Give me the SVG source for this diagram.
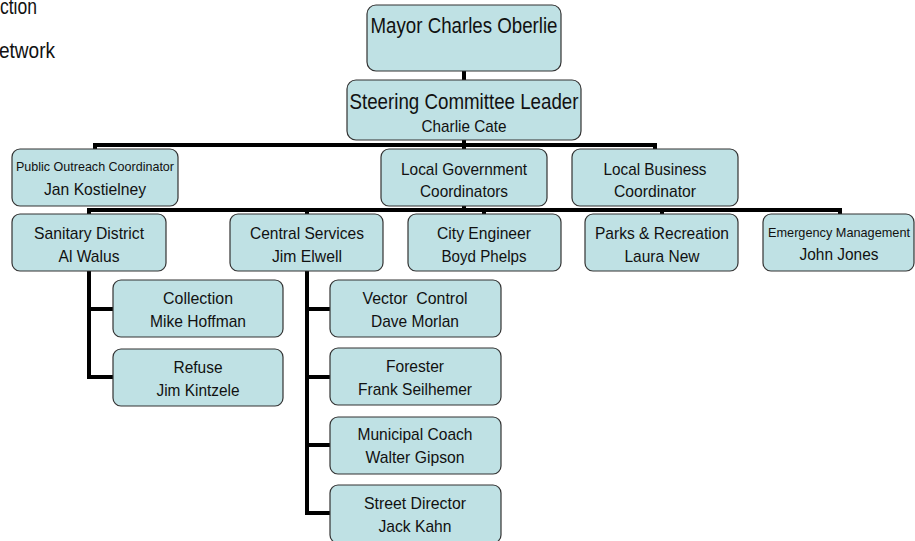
<svg xmlns="http://www.w3.org/2000/svg" width="915" height="541" viewBox="0 0 915 541">
<style>
.box{fill:#BFE1E4;stroke:#333;stroke-width:1.2}
text{font-family:"Liberation Sans",Arial,sans-serif;fill:#111;text-anchor:middle}
.big{font-size:22px}
.md{font-size:17px}
.sm{font-size:13px}
.hd{font-size:22px;text-anchor:start}
.ln{fill:none;stroke:#000;stroke-width:4;stroke-linejoin:miter;stroke-linecap:square}
</style>
<rect width="915" height="541" fill="#fff"/>
<text class="hd" x="0" y="14" textLength="37" lengthAdjust="spacingAndGlyphs">ction</text>
<text class="hd" x="-1" y="58" textLength="56" lengthAdjust="spacingAndGlyphs">etwork</text>
<g id="connectors">
<path class="ln" d="M464 71V80"/>
<path class="ln" d="M464 140V145M95 149V145H655V149M464 145V149"/>
<path class="ln" d="M464 206V210M89 214V210H840V214M307 210V214M484 210V214M662 210V214"/>
<path class="ln" d="M89 271V377H113M89 309H113"/>
<path class="ln" d="M307 271V513H330M307 309H330M307 377H330M307 445H330"/>
</g>
<g id="mayor"><rect class="box" x="367" y="5" width="194" height="66" rx="9"/><text class="big" x="464" y="33" textLength="187" lengthAdjust="spacingAndGlyphs">Mayor Charles Oberlie</text></g>
<g id="steering"><rect class="box" x="347" y="80" width="234" height="60" rx="9"/><text class="big" x="464" y="109" textLength="229" lengthAdjust="spacingAndGlyphs">Steering Committee Leader</text><text class="md" x="464" y="132" textLength="85" lengthAdjust="spacingAndGlyphs">Charlie Cate</text></g>
<g id="outreach"><rect class="box" x="12" y="149" width="166" height="57" rx="8"/><text class="sm" x="95" y="171" textLength="158" lengthAdjust="spacingAndGlyphs">Public Outreach Coordinator</text><text class="md" x="95" y="195" textLength="102" lengthAdjust="spacingAndGlyphs">Jan Kostielney</text></g>
<g id="localgov"><rect class="box" x="381" y="149" width="166" height="57" rx="8"/><text class="md" x="464" y="175" textLength="126" lengthAdjust="spacingAndGlyphs">Local Government</text><text class="md" x="464" y="197" textLength="88" lengthAdjust="spacingAndGlyphs">Coordinators</text></g>
<g id="localbiz"><rect class="box" x="572" y="149" width="166" height="57" rx="8"/><text class="md" x="655" y="175" textLength="103" lengthAdjust="spacingAndGlyphs">Local Business</text><text class="md" x="655" y="197" textLength="82" lengthAdjust="spacingAndGlyphs">Coordinator</text></g>
<g id="sanitary"><rect class="box" x="12" y="214" width="154" height="57" rx="8"/><text class="md" x="89" y="239" textLength="110" lengthAdjust="spacingAndGlyphs">Sanitary District</text><text class="md" x="89" y="262" textLength="61" lengthAdjust="spacingAndGlyphs">Al Walus</text></g>
<g id="central"><rect class="box" x="230" y="214" width="153" height="57" rx="8"/><text class="md" x="307" y="239" textLength="114" lengthAdjust="spacingAndGlyphs">Central Services</text><text class="md" x="307" y="262" textLength="70" lengthAdjust="spacingAndGlyphs">Jim Elwell</text></g>
<g id="cityeng"><rect class="box" x="408" y="214" width="153" height="57" rx="8"/><text class="md" x="484" y="239" textLength="94" lengthAdjust="spacingAndGlyphs">City Engineer</text><text class="md" x="484" y="262" textLength="85" lengthAdjust="spacingAndGlyphs">Boyd Phelps</text></g>
<g id="parks"><rect class="box" x="585" y="214" width="153" height="57" rx="8"/><text class="md" x="662" y="239" textLength="134" lengthAdjust="spacingAndGlyphs">Parks &amp; Recreation</text><text class="md" x="662" y="262" textLength="75" lengthAdjust="spacingAndGlyphs">Laura New</text></g>
<g id="emergency"><rect class="box" x="763" y="214" width="151" height="57" rx="8"/><text class="sm" x="839" y="237" textLength="142" lengthAdjust="spacingAndGlyphs">Emergency Management</text><text class="md" x="839" y="260" textLength="79" lengthAdjust="spacingAndGlyphs">John Jones</text></g>
<g id="collection"><rect class="box" x="113" y="280" width="170" height="57" rx="8"/><text class="md" x="198" y="304" textLength="70" lengthAdjust="spacingAndGlyphs">Collection</text><text class="md" x="198" y="327" textLength="96" lengthAdjust="spacingAndGlyphs">Mike Hoffman</text></g>
<g id="refuse"><rect class="box" x="113" y="349" width="170" height="57" rx="8"/><text class="md" x="198" y="373" textLength="49" lengthAdjust="spacingAndGlyphs">Refuse</text><text class="md" x="198" y="396" textLength="83" lengthAdjust="spacingAndGlyphs">Jim Kintzele</text></g>
<g id="vector"><rect class="box" x="330" y="280" width="171" height="57" rx="8"/><text class="md" x="415" y="304" textLength="105" lengthAdjust="spacingAndGlyphs" xml:space="preserve">Vector  Control</text><text class="md" x="415" y="327" textLength="88" lengthAdjust="spacingAndGlyphs">Dave Morlan</text></g>
<g id="forester"><rect class="box" x="330" y="348" width="171" height="57" rx="8"/><text class="md" x="415" y="372" textLength="58" lengthAdjust="spacingAndGlyphs">Forester</text><text class="md" x="415" y="395" textLength="114" lengthAdjust="spacingAndGlyphs">Frank Seilhemer</text></g>
<g id="coach"><rect class="box" x="330" y="417" width="171" height="57" rx="8"/><text class="md" x="415" y="440" textLength="115" lengthAdjust="spacingAndGlyphs">Municipal Coach</text><text class="md" x="415" y="463" textLength="99" lengthAdjust="spacingAndGlyphs">Walter Gipson</text></g>
<g id="street"><rect class="box" x="330" y="485" width="171" height="58" rx="8"/><text class="md" x="415" y="509" textLength="102" lengthAdjust="spacingAndGlyphs">Street Director</text><text class="md" x="415" y="532" textLength="73" lengthAdjust="spacingAndGlyphs">Jack Kahn</text></g>
</svg>
